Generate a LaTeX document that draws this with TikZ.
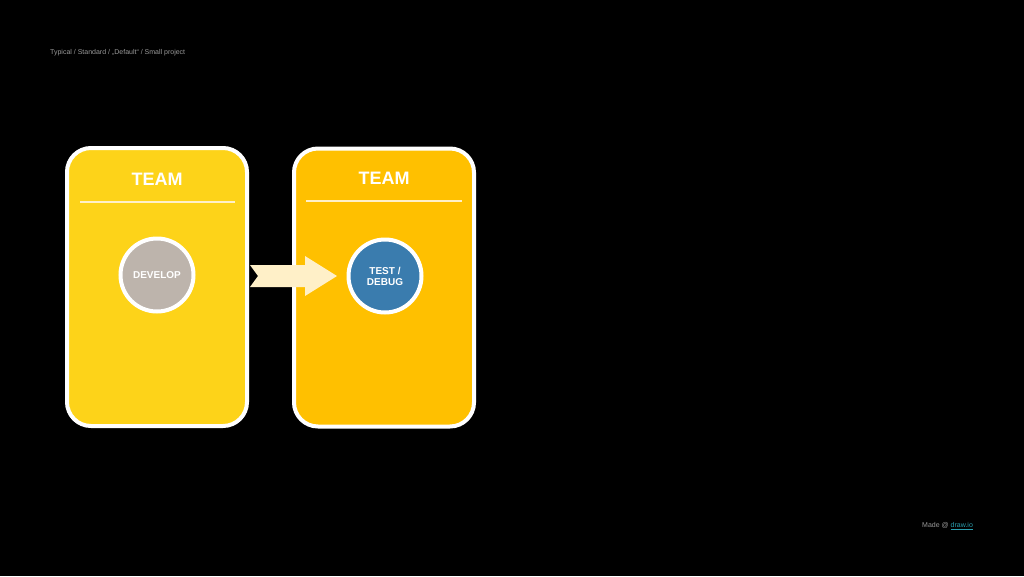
\documentclass[tikz,border=0pt]{standalone}
\usepackage{fontspec}
\setmainfont{Liberation Sans}
\usepackage{tikz}
\usetikzlibrary{positioning}
\definecolor{cardA}{HTML}{FDD319}
\definecolor{cardB}{HTML}{FFC000}
\definecolor{devgray}{HTML}{BDB4AC}
\definecolor{testblue}{HTML}{3A7CAE}
\definecolor{cream}{HTML}{FFF0C8}
\definecolor{linkteal}{HTML}{2A9FB0}
\tikzset{card/.style = {draw = white, line width = 4pt, rounded corners = 24pt, minimum width = 180pt, minimum height = 278pt},
         stage/.style = {draw = white, circle, line width = 4pt, minimum size = 73pt, inner sep = 0pt, text = white, font = \fontsize{10}{11}\selectfont\bfseries, align = center},
         head/.style = {text = white, font = \fontsize{18}{20}\selectfont\bfseries},
         rule/.style = {draw = cream, line width = 1.5pt},
         note/.style = {font = \fontsize{7}{8}\selectfont, inner sep = 0pt},
}

\begin{document}
\begin{tikzpicture}[x = 1pt, y = -1pt]

  \fill[black] (0,0) rectangle (1024,576);
  \useasboundingbox (0,0) rectangle (1024,576);

  \node[note, anchor = west, text = black!40] (title) at (50,53) {Typical / Standard / „Default“ / Small project};

  % two teams
  \node[card, fill = cardA] (teamA) at (157,287) {};
  \node[card, fill = cardB] (teamB) at (384,287.5) {};

  \node[head] (headA) at (157,179) {TEAM};
  \node[head] (headB) at (384,178) {TEAM};
  \draw[rule] (80,202) -- (235,202);
  \draw[rule] (306,201) -- (462,201);

  \node[stage, fill = devgray] (develop) at (157,275) {DEVELOP};
  \node[stage, fill = testblue] (test) at (385,276) {TEST /\\DEBUG};

  % hand over
  \fill[cream] (250,265) -- (305,265) -- (305,256) -- (337,276) -- (305,296) -- (305,287)
               -- (250,287) -- (258,276) -- cycle;

  \node[note, anchor = west, text = black!40] (made) at (922,526) {Made @ \textcolor{linkteal}{\underline{draw.io}}};

\end{tikzpicture}
\end{document}
